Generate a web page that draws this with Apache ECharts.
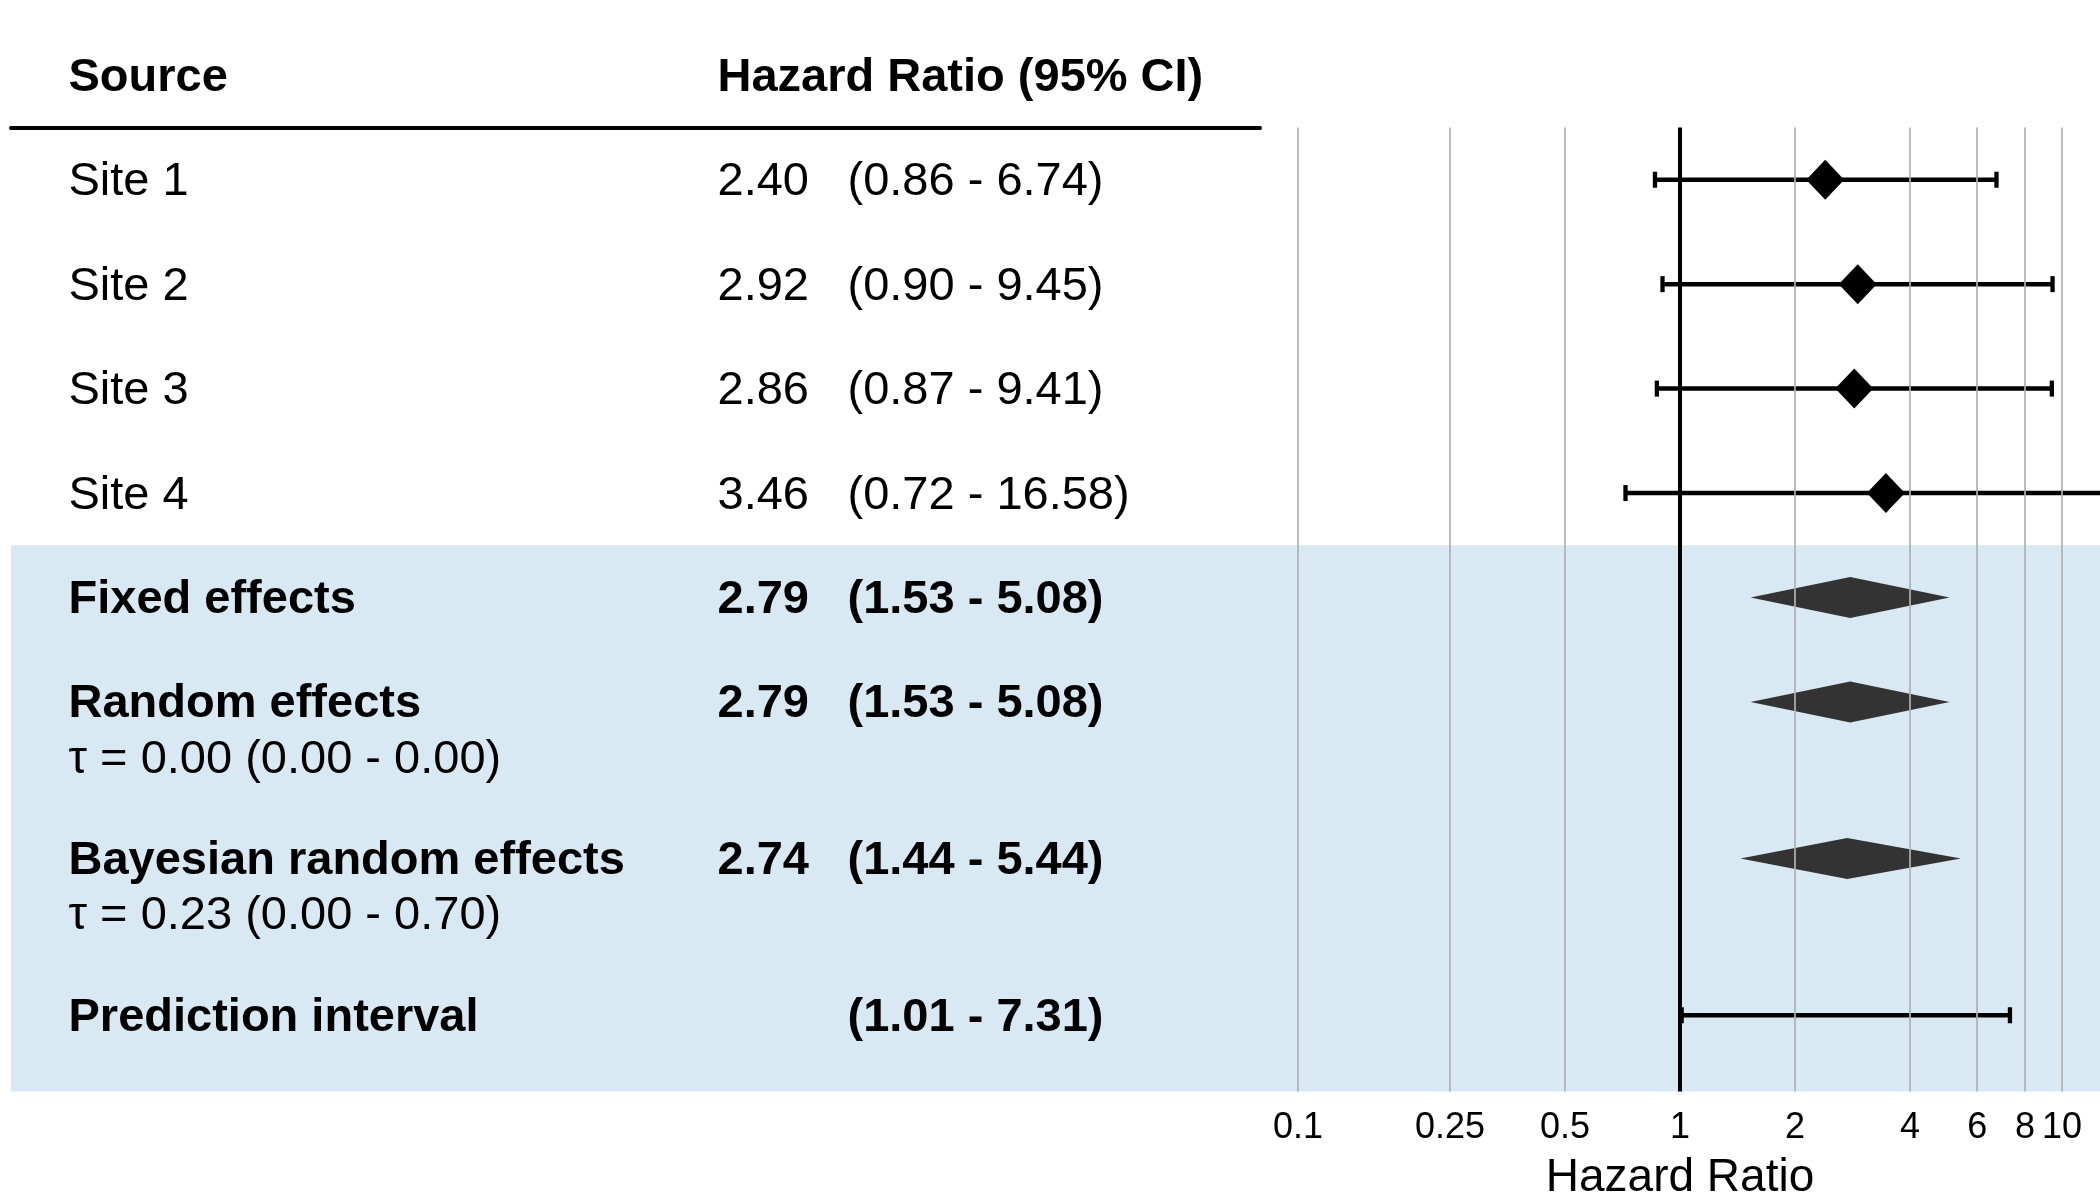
<!DOCTYPE html>
<html><head><meta charset="utf-8">
<script src="https://cdn.jsdelivr.net/npm/echarts@6/dist/echarts.min.js"></script>
<style>html,body{margin:0;padding:0;background:#fff}#c{width:2100px;height:1200px}</style>
</head><body><div id="c"></div>
<script>
// ---------- DATA ----------
const sources   = ['Site 1','Site 2','Site 3','Site 4','Fixed effects','Random effects','Bayesian random effects','Prediction interval'];
const estimates = [2.40, 2.92, 2.86, 3.46, 2.79, 2.79, 2.74, null];
const lowerCI   = [0.86, 0.90, 0.87, 0.72, 1.53, 1.53, 1.44, 1.01];
const upperCI   = [6.74, 9.45, 9.41, 16.58, 5.08, 5.08, 5.44, 7.31];
const rowKind   = ['study','study','study','study','summary','summary','summary','interval'];
const tauText   = ['', '', '', '', '', 'τ = 0.00 (0.00 - 0.00)', 'τ = 0.23 (0.00 - 0.70)', ''];
const headers   = ['Source', 'Hazard Ratio (95% CI)'];
const tickValues = [0.1, 0.25, 0.5, 1, 2, 4, 6, 8, 10];
const tickLabels = ['0.1','0.25','0.5','1','2','4','6','8','10'];
const axisTitle = 'Hazard Ratio';

// ---------- LAYOUT ----------
const ROW_POS = [1, 2, 3, 4, 5, 6, 7.5, 9];
const HEADER_POS = 0;
const TAU_OFFSET = 0.53;
const BAND_START = 4.5;
const Y_MIN = 0.5, Y_MAX = 9.73;
const COL_SOURCE = 57.5, COL_EST = 706.5, COL_CI = 836.5;   // grid-0 units
const X_MIN = 0.0795, X_MAX = 12.58;
const FONT = "'Liberation Sans', Arial, Helvetica, sans-serif";
const BLUE = '#d9e9f3';
const TEXT_SIZE = 47;

const fmt = v => v.toFixed(2);

function textItem(x, y, text, bold) {
  return { value: [x, y], label: { formatter: text, fontWeight: bold ? 'bold' : 'normal', color: '#000' } };
}
const textData = [];
textData.push(textItem(COL_SOURCE, HEADER_POS, headers[0], true));
textData.push(textItem(COL_EST, HEADER_POS, headers[1], true));
sources.forEach((s, i) => {
  const bold = rowKind[i] !== 'study';
  const y = ROW_POS[i];
  textData.push(textItem(COL_SOURCE, y, s, bold));
  if (estimates[i] != null) textData.push(textItem(COL_EST, y, fmt(estimates[i]), bold));
  textData.push(textItem(COL_CI, y, '(' + fmt(lowerCI[i]) + ' - ' + fmt(upperCI[i]) + ')', bold));
  if (tauText[i]) textData.push(textItem(COL_SOURCE, y + TAU_OFFSET, tauText[i], false));
});

const barData = [], studyPts = [], diamondData = [];
sources.forEach((s, i) => {
  const y = ROW_POS[i];
  if (rowKind[i] === 'study' || rowKind[i] === 'interval') barData.push([lowerCI[i], upperCI[i], y]);
  if (rowKind[i] === 'study') studyPts.push([estimates[i], y]);
  if (rowKind[i] === 'summary') diamondData.push([lowerCI[i], estimates[i], upperCI[i], y]);
});

function renderErrorBar(params, api) {
  const lo = api.value(0), hi = api.value(1), y = api.value(2);
  const cs = params.coordSys;
  const a = api.coord([lo, y]), b = api.coord([hi, y]);
  const xmin = cs.x, xmax = cs.x + cs.width;
  const x1 = Math.max(a[0], xmin), x2 = Math.min(b[0], xmax);
  const children = [{ type: 'line', shape: { x1: x1, y1: a[1], x2: x2, y2: a[1] }, style: { stroke: '#000', lineWidth: 4.5 } }];
  const capH = 8;
  if (a[0] >= xmin) children.push({ type: 'line', shape: { x1: a[0], y1: a[1] - capH, x2: a[0], y2: a[1] + capH }, style: { stroke: '#000', lineWidth: 4.3 } });
  if (b[0] <= xmax) children.push({ type: 'line', shape: { x1: b[0], y1: b[1] - capH, x2: b[0], y2: b[1] + capH }, style: { stroke: '#000', lineWidth: 4.3 } });
  return { type: 'group', children: children };
}
function renderDiamond(params, api) {
  const y = api.value(3);
  const pl = api.coord([api.value(0), y]);
  const pm = api.coord([api.value(1), y]);
  const ph = api.coord([api.value(2), y]);
  const h = 20.5;
  return { type: 'polygon', shape: { points: [[pl[0], pl[1]], [pm[0], pm[1] - h], [ph[0], ph[1]], [pm[0], pm[1] + h]] }, style: { fill: '#333333' } };
}
function tickFormatter(v) {
  let best = 0, bd = Infinity;
  tickValues.forEach((t, i) => { const d = Math.abs(Math.log(v) - Math.log(t)); if (d < bd) { bd = d; best = i; } });
  return tickLabels[best];
}

const chart = echarts.init(document.getElementById('c'), null, { renderer: 'canvas' });
chart.setOption({
  animation: false,
  backgroundColor: '#fff',
  textStyle: { fontFamily: FONT, color: '#000' },
  grid: [
    { left: 11, top: 127.5, width: 1249, bottom: 108.5, outerBoundsMode: 'none', containLabel: false },
    { left: 1260, top: 127.5, right: 0, bottom: 108.5, outerBoundsMode: 'none', containLabel: false }
  ],
  xAxis: [
    { gridIndex: 0, type: 'value', min: 0, max: 1249, position: 'top',
      axisLine: { show: true, lineStyle: { color: '#000', width: 4 } },
      axisTick: { show: false }, axisLabel: { show: false }, splitLine: { show: false } },
    { gridIndex: 1, type: 'log', logBase: 10, min: X_MIN, max: X_MAX,
      axisLine: { show: false }, axisTick: { show: false }, splitLine: { show: false },
      axisLabel: { customValues: tickValues, formatter: tickFormatter, fontSize: 36, color: '#000', margin: 19, fontFamily: FONT },
      name: axisTitle, nameLocation: 'middle', nameGap: 64,
      nameTextStyle: { fontSize: 46, color: '#000', fontFamily: FONT } }
  ],
  yAxis: [
    { gridIndex: 0, type: 'value', inverse: true, min: Y_MIN, max: Y_MAX, show: false },
    { gridIndex: 1, type: 'value', inverse: true, min: Y_MIN, max: Y_MAX, show: false }
  ],
  series: [
    { type: 'scatter', xAxisIndex: 0, yAxisIndex: 0, data: [], z: 0, silent: true,
      markArea: { silent: true, itemStyle: { color: BLUE, opacity: 1 }, data: [[{ xAxis: 'min', yAxis: BAND_START }, { xAxis: 'max', yAxis: Y_MAX }]] } },
    { type: 'scatter', xAxisIndex: 1, yAxisIndex: 1, data: [], z: 0, silent: true,
      markArea: { silent: true, itemStyle: { color: BLUE, opacity: 1 }, data: [[{ xAxis: 'min', yAxis: BAND_START }, { xAxis: 'max', yAxis: Y_MAX }]] } },
    { type: 'scatter', xAxisIndex: 1, yAxisIndex: 1, data: [], z: 1, silent: true,
      markLine: { silent: true, symbol: ['none', 'none'], label: { show: false }, animation: false,
        data: tickValues.map(v => v === 1
          ? { xAxis: v, lineStyle: { color: '#000', width: 4, type: 'solid', opacity: 1 } }
          : { xAxis: v, lineStyle: { color: '#b0b0b0', width: 1.7, type: 'solid', opacity: 1 } }) } },
    { type: 'custom', xAxisIndex: 1, yAxisIndex: 1, z: 3, renderItem: renderErrorBar, data: barData, encode: { x: [0, 1], y: 2 }, silent: true },
    { type: 'scatter', xAxisIndex: 1, yAxisIndex: 1, z: 4, symbol: 'diamond', symbolSize: [38, 40], itemStyle: { color: '#000', opacity: 1 }, data: studyPts, silent: true },
    { type: 'custom', xAxisIndex: 1, yAxisIndex: 1, z: 4, renderItem: renderDiamond, data: diamondData, encode: { x: [0, 1, 2], y: 3 }, silent: true },
    { type: 'scatter', xAxisIndex: 0, yAxisIndex: 0, z: 5, symbolSize: 0, clip: false, silent: true, data: textData,
      itemStyle: { opacity: 1, color: '#000' },
      label: { show: true, position: 'right', distance: 0, offset: [0, 2.5], color: '#000', opacity: 1, textBorderWidth: 0, fontSize: TEXT_SIZE, fontFamily: FONT } }
  ]
});
</script>
</body></html>
